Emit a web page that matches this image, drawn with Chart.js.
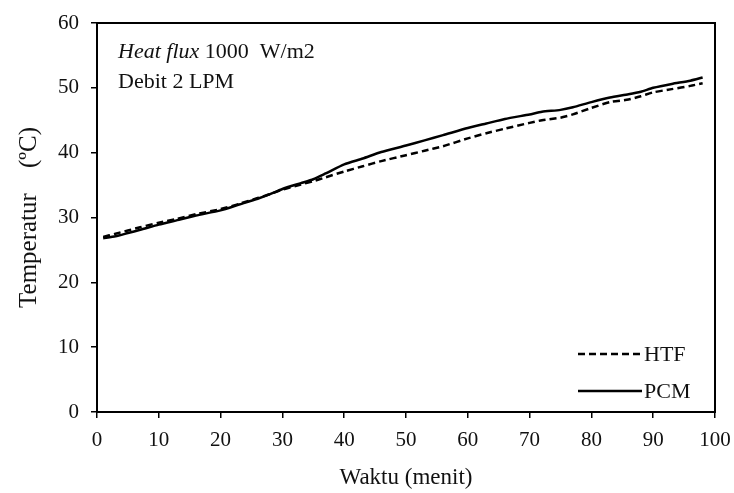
<!DOCTYPE html>
<html>
<head>
<meta charset="utf-8">
<script src="https://cdn.jsdelivr.net/npm/chart.js@4"></script>
<style>
html, body { margin: 0; padding: 0; background: #fff; }
#wrap { width: 734px; height: 493px; }
</style>
</head>
<body>
<div id="wrap"><canvas id="chart"></canvas></div>
<script>
// data
const waktu = [1, 3, 5, 7, 10, 13, 16, 20, 23, 26, 28, 30, 33, 35, 37, 40, 43, 46, 50, 53, 56, 60, 63, 66, 70, 72, 75, 77, 80, 83, 86, 88, 90, 93, 96, 98];
const htf = [27.0, 27.5, 28.0, 28.5, 29.2, 29.8, 30.5, 31.3, 32.1, 33.0, 33.6, 34.3, 35.1, 35.6, 36.2, 37.1, 37.9, 38.7, 39.6, 40.3, 41.0, 42.2, 43.0, 43.7, 44.6, 45.0, 45.4, 45.9, 46.9, 47.8, 48.2, 48.7, 49.3, 49.8, 50.3, 50.7];
const pcm = [26.8, 27.1, 27.6, 28.1, 28.9, 29.6, 30.3, 31.1, 32.0, 32.9, 33.6, 34.4, 35.3, 35.9, 36.8, 38.2, 39.1, 40.1, 41.1, 41.9, 42.7, 43.8, 44.5, 45.2, 45.9, 46.3, 46.6, 47.0, 47.8, 48.5, 49.0, 49.4, 50.0, 50.6, 51.1, 51.6];
const seriesLabels = ["HTF", "PCM"];
const notes = ["1000  W/m2", "Debit 2 LPM"];

const serif = "'Liberation Serif', 'Times New Roman', serif";

// kotak di sekeliling area plot + keterangan + legenda
const extras = {
    id: "extras",
    afterDraw(chart) {
        const ctx = chart.ctx;
        const a = chart.chartArea;
        ctx.save();
        ctx.strokeStyle = "#000";
        ctx.lineWidth = 2;
        ctx.strokeRect(a.left, a.top, a.right - a.left, a.bottom - a.top);

        ctx.fillStyle = "#111";
        ctx.textBaseline = "middle";
        ctx.textAlign = "left";
        ctx.font = "italic 22px " + serif;
        ctx.fillText("Heat flux", 118, 52);
        const w = ctx.measureText("Heat flux ").width;
        ctx.font = "22px " + serif;
        ctx.fillText(notes[0], 118 + w, 52);
        ctx.fillText(notes[1], 118, 82);

        chart.data.datasets.forEach((ds, i) => {
            const y = 354 + i * 37;
            ctx.beginPath();
            ctx.setLineDash(ds.borderDash || []);
            ctx.lineWidth = 2.5;
            ctx.moveTo(578, y);
            ctx.lineTo(642, y);
            ctx.stroke();
            ctx.setLineDash([]);
            ctx.fillText(ds.label, 644, y + 1);
        });
        ctx.restore();
    }
};

new Chart(document.getElementById("chart"), {
    type: "line",
    data: {
        datasets: [
            {label: seriesLabels[0], data: waktu.map((x, i) => ({x: x, y: htf[i]})),
             borderColor: "#000", borderWidth: 2.5, borderDash: [7, 4], pointRadius: 0, tension: 0.2},
            {label: seriesLabels[1], data: waktu.map((x, i) => ({x: x, y: pcm[i]})),
             borderColor: "#000", borderWidth: 2.5, pointRadius: 0, tension: 0.2},
        ],
    },
    options: {
        responsive: true,
        maintainAspectRatio: false,
        animation: false,
        layout: {padding: {top: 23, right: 19, left: 0, bottom: 0}},
        plugins: {legend: {display: false}, tooltip: {enabled: false}},
        scales: {
            x: {
                type: "linear", min: 0, max: 100,
                afterFit: s => { s.height = 81; s.paddingLeft = 0; s.paddingRight = 0; },
                ticks: {stepSize: 10, color: "#111", font: {family: serif, size: 21}, padding: 10, maxRotation: 0},
                grid: {drawOnChartArea: false, drawTicks: true, tickLength: 6, color: "#000", lineWidth: 1.5},
                border: {color: "#000", width: 2},
                title: {display: true, text: "Waktu (menit)", color: "#111", font: {family: serif, size: 23}, padding: {top: 0, bottom: 1}},
            },
            y: {
                min: 0, max: 60,
                afterFit: s => { s.width = 97; s.paddingTop = 0; s.paddingBottom = 0; },
                ticks: {stepSize: 10, color: "#111", font: {family: serif, size: 21}, padding: 12},
                grid: {drawOnChartArea: false, drawTicks: true, tickLength: 6, color: "#000", lineWidth: 1.5},
                border: {color: "#000", width: 2},
                title: {display: true, text: "Temperatur    (ºC)", color: "#111", font: {family: serif, size: 25}, padding: {top: 14, bottom: 0}},
            },
        },
    },
    plugins: [extras],
});
</script>
</body>
</html>
